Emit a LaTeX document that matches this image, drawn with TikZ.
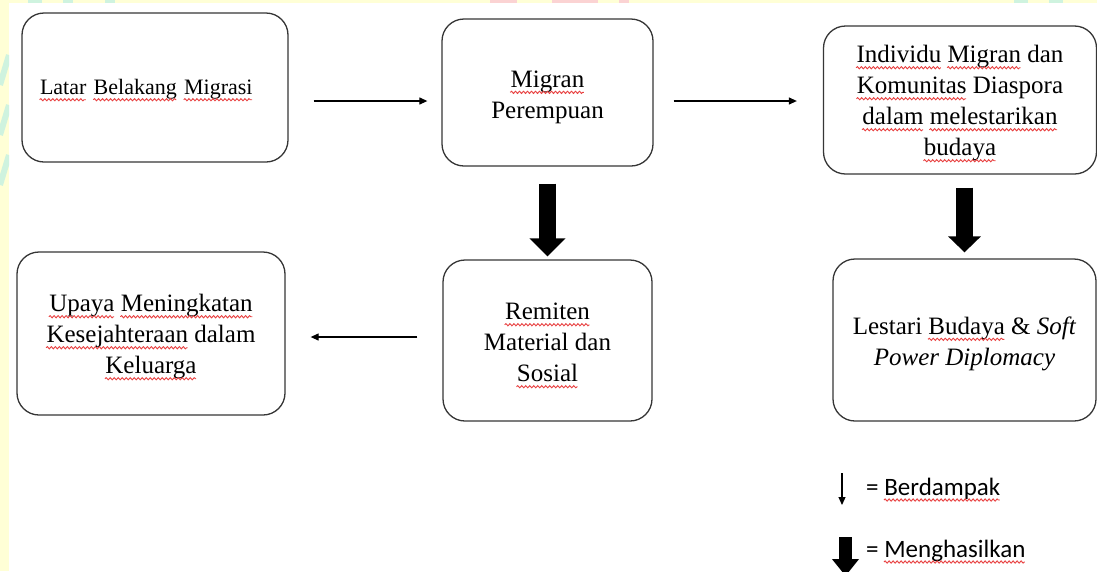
\documentclass[tikz,border=0pt]{standalone}
\usepackage{fontspec}
\setmainfont{Liberation Serif}
\newfontfamily\legendfont{Carlito}
\usepackage{xcolor}
\usetikzlibrary{calc,positioning}
\usetikzlibrary{arrows.meta,decorations.pathmorphing}
\definecolor{boxline}{HTML}{363636}
\definecolor{wavered}{HTML}{E84040}
\definecolor{stripyellow}{HTML}{FFFFD6}
\definecolor{stripmint}{HTML}{CFF3DF}
\definecolor{strippink}{HTML}{FBD3D3}
\newsavebox\wvbox
\newcommand{\wv}[1]{\sbox\wvbox{#1}\usebox\wvbox\llap{\tikz[baseline=0pt,x=1pt,y=1pt]\draw[draw=wavered,fill=none,sharp corners,line width=0.9pt,-,shorten <=0pt,shorten >=0pt,decorate,decoration={snake,amplitude=1.1pt,segment length=4pt}] (0pt,-5pt) -- (\the\wd\wvbox,-5pt);}}
\newcommand{\up}[1][25pt]{\rule{0pt}{#1}}

\begin{document}
\begin{tikzpicture}[x=1pt,y=-1pt,
		box/.style = {draw=boxline, line width=1.3pt, rounded corners=22pt, fill=white, align=center, inner sep=0pt, font=\fontsize{25}{31}\selectfont},
		dampak/.style = {-{Triangle[length=8pt,width=7pt]}, line width=1.2pt},
		hasil/.style = {-{Triangle[length=18pt,width=35pt]}, line width=17pt},
		legend/.style = {anchor=base west, inner sep=0pt, font=\legendfont\fontsize{25}{30}\selectfont}]
		\useasboundingbox (0,0) rectangle (1097,571);
		% background strips
		\fill[white] (0,0) rectangle (1097,571);
		\fill[stripyellow] (0,0) rectangle (9,571);
		\fill[stripyellow] (0,0) rectangle (1097,2.5);
		\begin{scope}
			\clip (0,0) rectangle (9,571);
			\foreach \y in {55,105,155}
				\draw[stripmint, line width=6pt] (0,\y+30) -- (9,\y);
		\end{scope}
		\foreach \a/\b in {28/42,63/73,105/115,1014/1028,1049/1063}
			\fill[stripmint] (\a,0) rectangle (\b,2.5);
		\foreach \a/\b in {490/517,552/598,619/629}
			\fill[strippink] (\a,0) rectangle (\b,2.5);

		\node[box, minimum width=266pt, minimum height=149pt, align=left, text width=230pt, font=\fontsize{22}{27}\selectfont] (lat) at (155,87.5) {\up[21pt]\wv{Latar} \wv{Belakang} \wv{Migrasi}};
		\node[box, minimum width=211pt, minimum height=147pt] (mig) at (547.5,92.5) {\up[26pt]\wv{Migran}\\Perempuan};
		\node[box, minimum width=273pt, minimum height=148pt] (ind) at (960,100) {\up\wv{Individu} \wv{Migran} dan\\\wv{Komunitas} Diaspora\\\wv{dalam} \wv{melestarikan}\\\wv{budaya}};
		\node[box, minimum width=268pt, minimum height=163pt] (upa) at (151,333.5) {\up\wv{Upaya} \wv{Meningkatan}\\\wv{Kesejahteraan} dalam\\\wv{Keluarga}};
		\node[box, minimum width=209pt, minimum height=161pt] (rem) at (547.5,340.5) {\up[27pt]\wv{Remiten}\\Material dan\\\wv{Sosial}};
		\node[box, minimum width=263pt, minimum height=162pt] (les) at (964.5,340) {\up Lestari \wv{Budaya} \& \textit{Soft}\\\textit{Power Diplomacy}};

		\draw[dampak, shorten <=25pt, shorten >=14pt] ([yshift=-13.5pt]lat.east) -- ([yshift=-8.5pt]mig.west);
		\draw[dampak, shorten <=20pt, shorten >=26pt] ([yshift=-8.5pt]mig.east) -- ([yshift=-1pt]ind.west);
		\draw[dampak, shorten <=25pt, shorten >=25pt] ([yshift=3.5pt]rem.west) -- ([yshift=-3.5pt]upa.east);
		\draw[hasil, shorten <=17pt, shorten >=3pt] (mig.south) -- (rem.north);
		\draw[hasil, shorten <=13pt, shorten >=6pt, -{Triangle[length=16pt,width=32pt]}] (ind.south -| les.north) -- (les.north);

		% legend
		\coordinate (d1) at (842,473);
		\coordinate (d2) at (842,505);
		\draw[dampak] (d1) -- (d2);
		\node[legend] (ldampak) at (866,495) {= \wv{Berdampak}};
		\coordinate (h1) at (845.5,537);
		\coordinate (h2) at (845.5,576);
		\draw[hasil, line width=13pt, -{Triangle[length=17pt,width=26pt]}] (h1) -- (h2);
		\node[legend] (lhasil) at (866,557) {= \wv{Menghasilkan}};
	\end{tikzpicture}
\end{document}
